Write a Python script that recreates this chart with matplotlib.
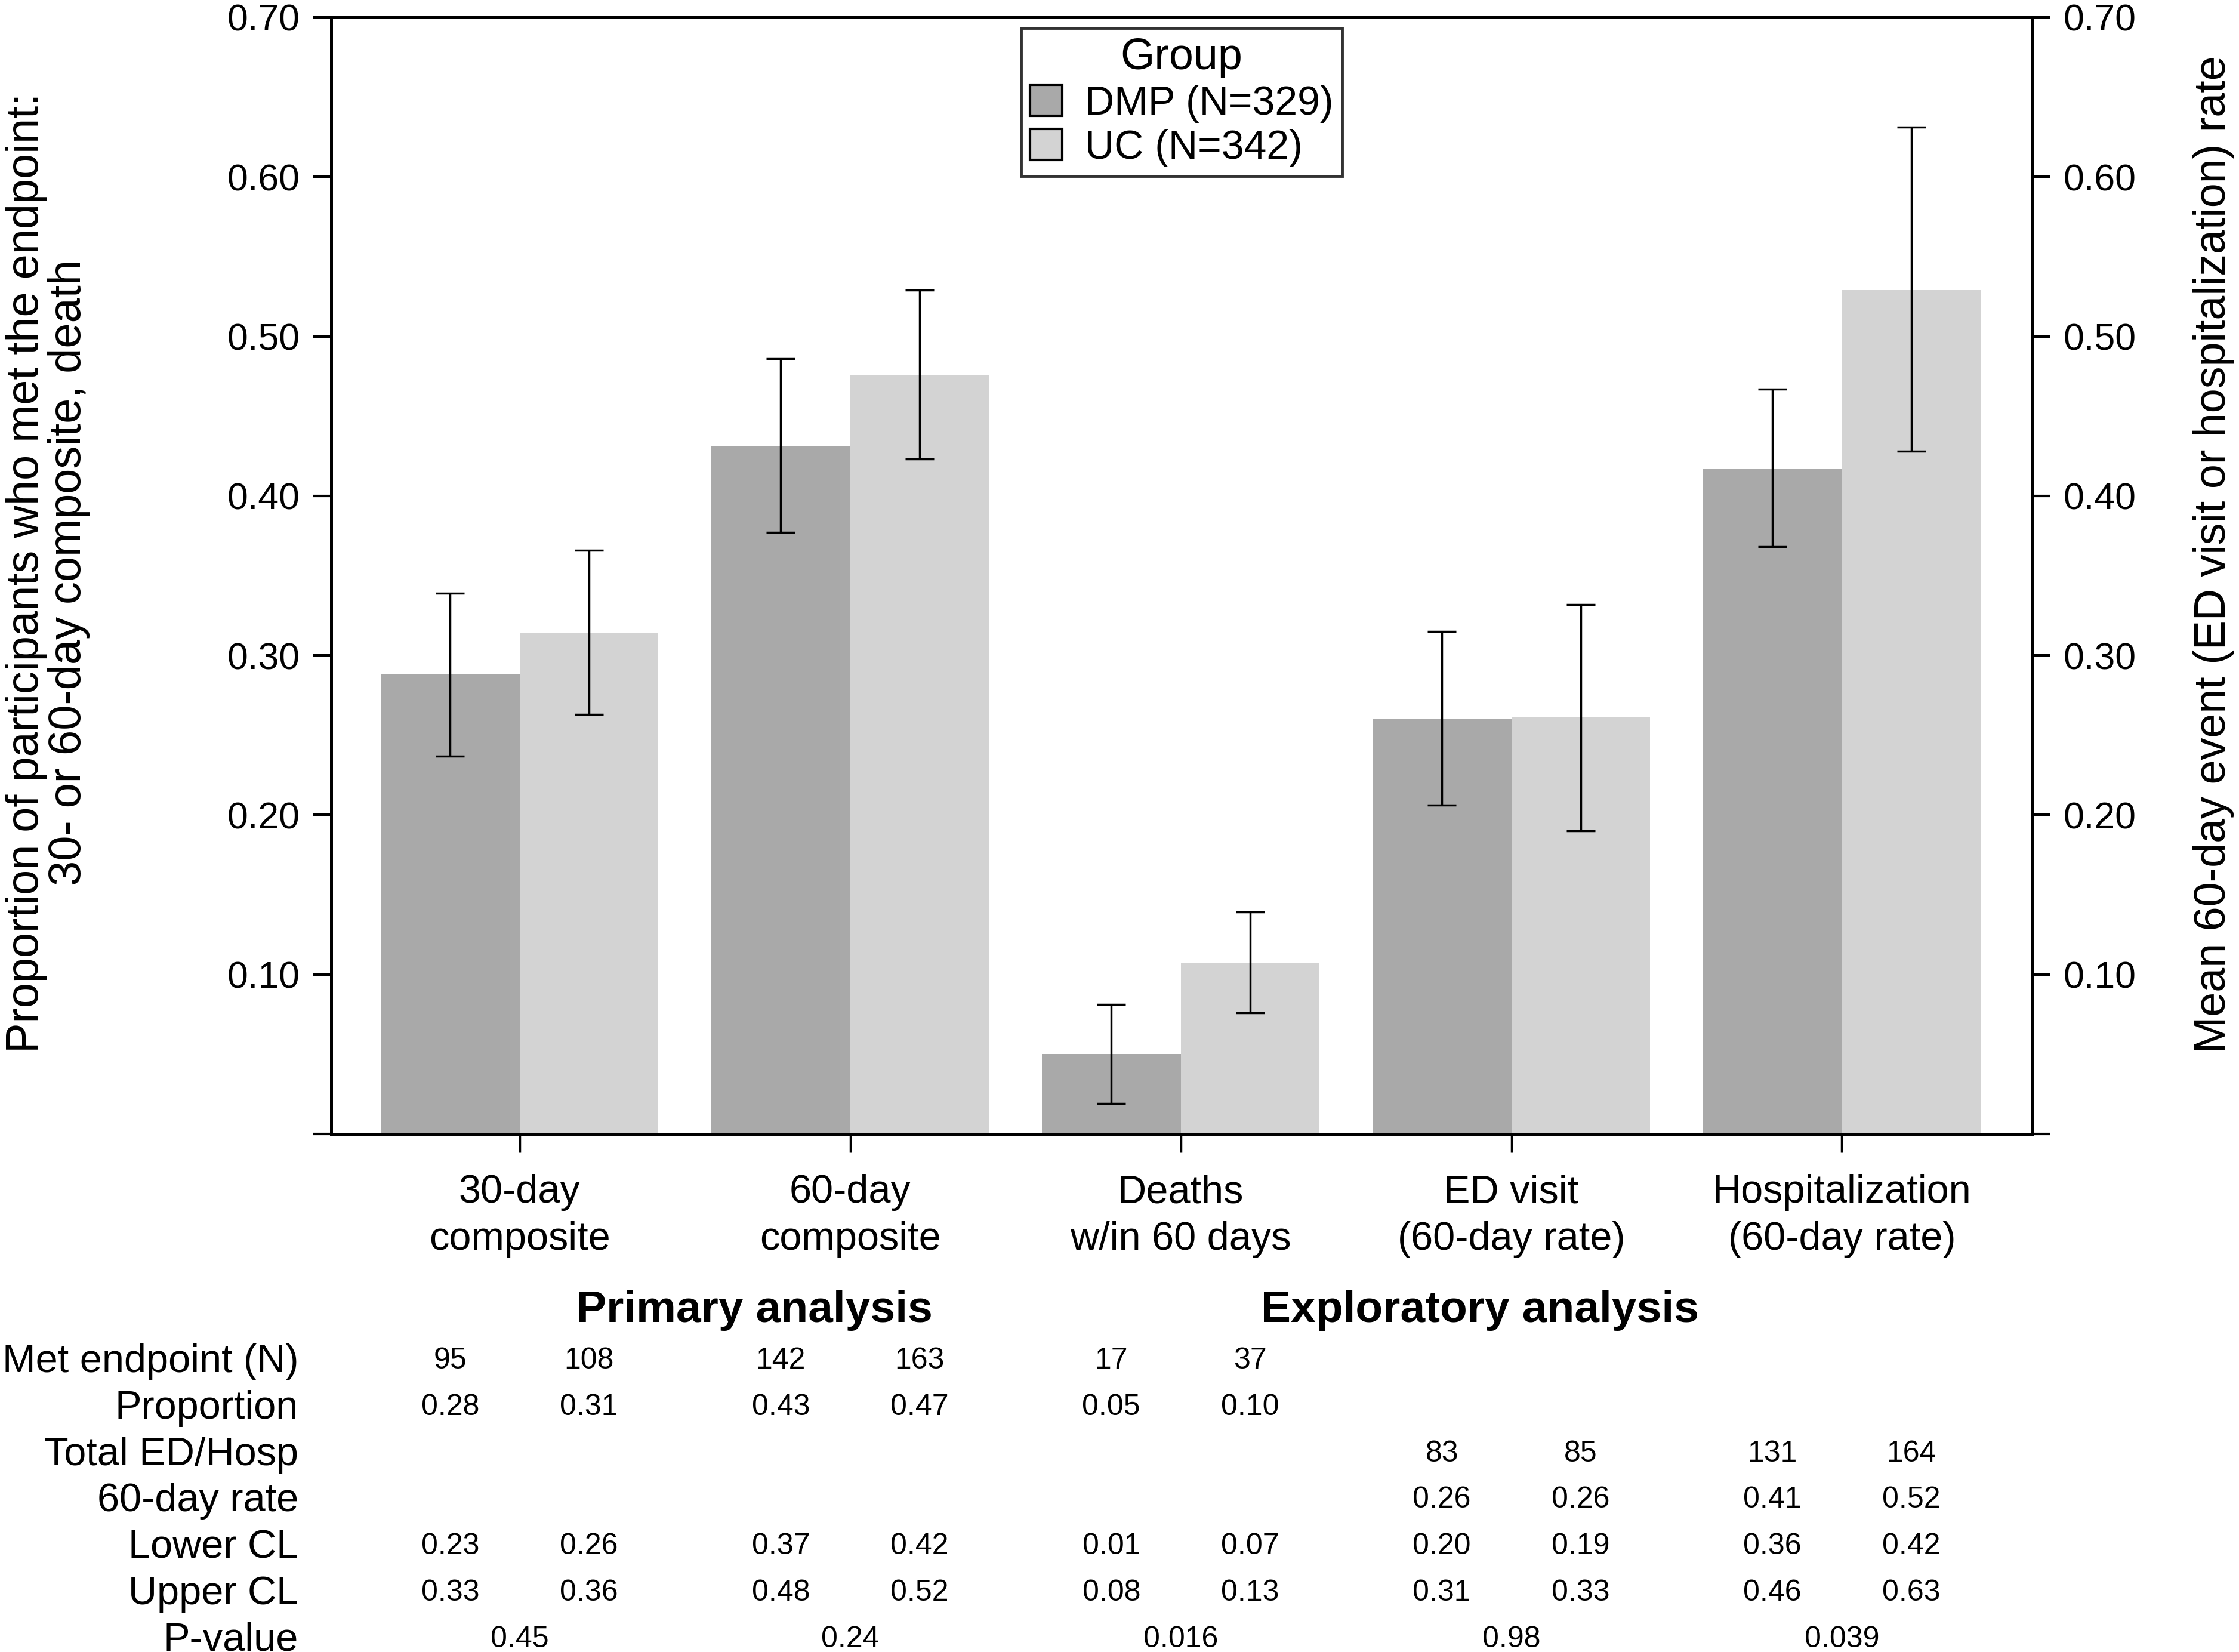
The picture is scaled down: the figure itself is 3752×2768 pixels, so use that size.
import matplotlib.pyplot as plt
import matplotlib.transforms as mtransforms
from matplotlib.patches import Patch
import numpy as np

plt.rcParams['font.family'] = ['Liberation Sans', 'DejaVu Sans']

# bar data
categories = ["30-day\ncomposite", "60-day\ncomposite", "Deaths\nw/in 60 days",
              "ED visit\n(60-day rate)", "Hospitalization\n(60-day rate)"]
dmp_value = [0.288, 0.431, 0.050, 0.260, 0.417]
uc_value = [0.314, 0.476, 0.107, 0.261, 0.529]
dmp_lower = [0.237, 0.377, 0.019, 0.206, 0.368]
dmp_upper = [0.339, 0.486, 0.081, 0.315, 0.467]
uc_lower = [0.263, 0.423, 0.076, 0.190, 0.428]
uc_upper = [0.366, 0.529, 0.139, 0.332, 0.631]
dmp_label = "DMP (N=329)"
uc_label = "UC (N=342)"

# table under the chart: (DMP, UC) pairs per category
row_names = ["Met endpoint (N)", "Proportion", "Total ED/Hosp", "60-day rate",
             "Lower CL", "Upper CL", "P-value"]
met_n = [("95", "108"), ("142", "163"), ("17", "37"), ("", ""), ("", "")]
proportion = [("0.28", "0.31"), ("0.43", "0.47"), ("0.05", "0.10"), ("", ""), ("", "")]
total_ed_hosp = [("", ""), ("", ""), ("", ""), ("83", "85"), ("131", "164")]
rate_60 = [("", ""), ("", ""), ("", ""), ("0.26", "0.26"), ("0.41", "0.52")]
lower_cl = [("0.23", "0.26"), ("0.37", "0.42"), ("0.01", "0.07"), ("0.20", "0.19"), ("0.36", "0.42")]
upper_cl = [("0.33", "0.36"), ("0.48", "0.52"), ("0.08", "0.13"), ("0.31", "0.33"), ("0.46", "0.63")]
p_value = ["0.45", "0.24", "0.016", "0.98", "0.039"]

W, H = 3752, 2768
fig = plt.figure(figsize=(W / 100, H / 100), dpi=100)
ax = fig.add_axes([555 / W, 1 - 1900 / H, (3405 - 555) / W, (1900 - 29) / H])

x = np.arange(len(categories))
bw = 0.42
dmp_col = '#a9a9a9'
uc_col = '#d3d3d3'

ax.bar(x - bw / 2, dmp_value, width=bw, color=dmp_col, zorder=1)
ax.bar(x + bw / 2, uc_value, width=bw, color=uc_col, zorder=1)

dmp_err = [np.array(dmp_value) - np.array(dmp_lower), np.array(dmp_upper) - np.array(dmp_value)]
uc_err = [np.array(uc_value) - np.array(uc_lower), np.array(uc_upper) - np.array(uc_value)]
ax.errorbar(x - bw / 2, dmp_value, yerr=dmp_err, fmt='none', ecolor='black',
            elinewidth=2.5, capsize=17, capthick=2.5, zorder=3)
ax.errorbar(x + bw / 2, uc_value, yerr=uc_err, fmt='none', ecolor='black',
            elinewidth=2.5, capsize=17, capthick=2.5, zorder=3)

ax.set_xlim(-0.57, 4.575)
ax.set_ylim(0, 0.70)
yt = np.arange(0, 0.71, 0.1)
ax.set_yticks(yt)
ax.set_yticklabels([''] + ['%.2f' % v for v in yt[1:]])
ax.set_xticks(x)
ax.set_xticklabels([])

for s in ax.spines.values():
    s.set_linewidth(3.5)
ax.tick_params(axis='y', which='both', direction='out', length=22, width=3,
               labelsize=45, pad=16, left=True, right=True, labelleft=True)
ax.tick_params(axis='x', direction='out', length=22, width=2.5)

ax2 = ax.twinx()
ax2.set_ylim(0, 0.70)
ax2.set_yticks(yt)
ax2.set_yticklabels([''] + ['%.2f' % v for v in yt[1:]])
ax2.tick_params(axis='y', direction='out', length=22, width=3, labelsize=45, pad=16)
for s in ax2.spines.values():
    s.set_linewidth(3.5)

# category labels, two lines each
trans = mtransforms.blended_transform_factory(ax.transData, fig.transFigure)
for i, c in enumerate(categories):
    lines = c.split('\n')
    for j, ln in enumerate(lines):
        ax.text(i, 1 - (2015 + 79 * j) / H, ln, transform=trans, ha='center',
                va='baseline', fontsize=48, clip_on=False)

# axis titles
fig.text(80 / W, 1 - 960 / H,
         "Proportion of participants who met the endpoint:\n30- or 60-day composite, death",
         rotation=90, ha='center', va='center', fontsize=54.5, multialignment='center',
         linespacing=1.0)
fig.text(3709 / W, 1 - 929 / H, "Mean 60-day event (ED visit or hospitalization) rate",
         rotation=90, ha='center', va='center', fontsize=53)

# legend
handles = [Patch(facecolor=dmp_col, edgecolor='black', linewidth=3, label=dmp_label),
           Patch(facecolor=uc_col, edgecolor='black', linewidth=3, label=uc_label)]
leg = ax2.legend(handles=handles, title="Group", loc='upper center', bbox_to_anchor=(0.5, 1.0),
                 fontsize=49, title_fontsize=53, frameon=True, fancybox=False,
                 borderaxespad=0.27, handlelength=0.8, handleheight=0.8, handletextpad=0.55,
                 labelspacing=0.15, borderpad=0.22)
leg.get_frame().set_edgecolor('black')
leg.get_frame().set_linewidth(3.5)

# table section titles
ax.text(0.71, 1 - 2215 / H, "Primary analysis", transform=trans, ha='center',
        va='baseline', fontsize=54, fontweight='bold')
ax.text(2.905, 1 - 2215 / H, "Exploratory analysis", transform=trans, ha='center',
        va='baseline', fontsize=54, fontweight='bold')

# table body
pair_rows = [met_n, proportion, total_ed_hosp, rate_60, lower_cl, upper_cl]
for r, name in enumerate(row_names):
    yb = 1 - (2293 + 77.8 * r) / H
    fig.text(500 / W, yb - 6 / H, name, ha='right', va='baseline', fontsize=48)
    if r < len(pair_rows):
        for i, (a, b) in enumerate(pair_rows[r]):
            ax.text(i - bw / 2, yb, a, transform=trans, ha='center', va='baseline', fontsize=36)
            ax.text(i + bw / 2, yb, b, transform=trans, ha='center', va='baseline', fontsize=36)
    else:
        for i, p in enumerate(p_value):
            ax.text(i, yb, p, transform=trans, ha='center', va='baseline', fontsize=36)

fig.savefig("out.png", dpi=100)
